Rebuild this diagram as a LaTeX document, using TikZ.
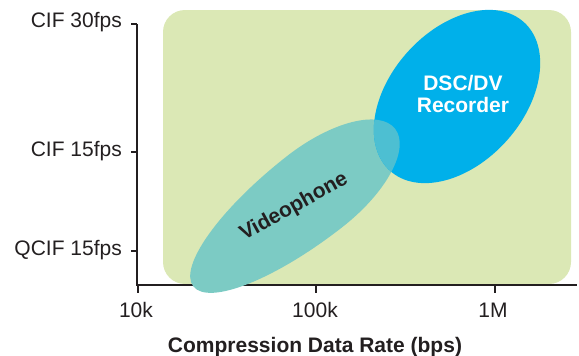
\documentclass[tikz,border=0pt]{standalone}
\usepackage{fontspec}
\setmainfont{Liberation Sans}
\definecolor{bggreen}{HTML}{DBE8B5}
\definecolor{teal1}{HTML}{7CCBC4}
\definecolor{blue1}{HTML}{00B0EA}
\definecolor{mix1}{HTML}{4DBFD2}
\definecolor{ink}{HTML}{231F20}
\begin{document}
\begin{tikzpicture}[x=1pt,y=-1pt,
  axis/.style={draw=ink,line width=1.8pt},
  tick/.style={draw=ink,line width=1.4pt},
  lbl/.style={text=ink,font=\fontsize{21}{24}\selectfont,inner sep=0pt},
  blbl/.style={font=\fontsize{21}{24}\selectfont\bfseries,inner sep=0pt,align=center},
  eggframe/.style={shift={(314.7,191.6)},rotate=38}]
\useasboundingbox (0,0) rectangle (579,356);
% background region
\fill[bggreen,rounded corners=22pt] (163,10) rectangle (571,284);
% axes
\coordinate (ytop) at (137,24);
\coordinate (orig) at (137,285);
\coordinate (xend) at (577,285);
\draw[axis] (ytop) -- (orig) -- (xend);
% shapes
\def\tealegg{(102,0) arc[start angle=0,end angle=90,x radius=102,y radius=45]
  arc[start angle=90,end angle=270,x radius=154,y radius=45]
  arc[start angle=270,end angle=360,x radius=102,y radius=45] -- cycle}
\def\blueell{(457,96.5) ellipse [x radius=100, y radius=66.5, rotate=48]}
\begin{scope}[eggframe]
  \fill[teal1] \tealegg;
\end{scope}
\fill[blue1] \blueell;
\begin{scope}
  \clip \blueell;
  \begin{scope}[eggframe]
    \fill[mix1] \tealegg;
  \end{scope}
\end{scope}
% y ticks
\coordinate (y1) at (137,24);
\coordinate (y2) at (137,152);
\coordinate (y3) at (137,251);
\draw[tick] (y1) -- ++(-6,0);
\draw[tick] (y2) -- ++(-6,0);
\draw[tick] (y3) -- ++(-6,0);
\node[lbl,anchor=east] (l1) at (122,22) {CIF 30fps};
\node[lbl,anchor=east] (l2) at (122,151) {CIF 15fps};
\node[lbl,anchor=east] (l3) at (122,250) {QCIF 15fps};
% x ticks
\coordinate (x1) at (138,285);
\coordinate (x2) at (316,285);
\coordinate (x3) at (495,285);
\draw[tick] (x1) -- ++(0,8);
\draw[tick] (x2) -- ++(0,8);
\draw[tick] (x3) -- ++(0,8);
\node[lbl,anchor=base] (t1) at (136,317) {10k};
\node[lbl,anchor=base] (t2) at (315,317) {100k};
\node[lbl,anchor=base] (t3) at (493,317) {1M};
\node[blbl,text=ink,anchor=base] (title) at (315,352) {Compression Data Rate (bps)};
% labels in shapes
\node[blbl,text=ink,rotate=29] (vp) at (294,207) {Videophone};
\node[blbl,text=white,anchor=base] (dsc1) at (463,90) {DSC/DV};
\node[blbl,text=white,anchor=base] (dsc2) at (463,112) {Recorder};
\end{tikzpicture}
\end{document}
